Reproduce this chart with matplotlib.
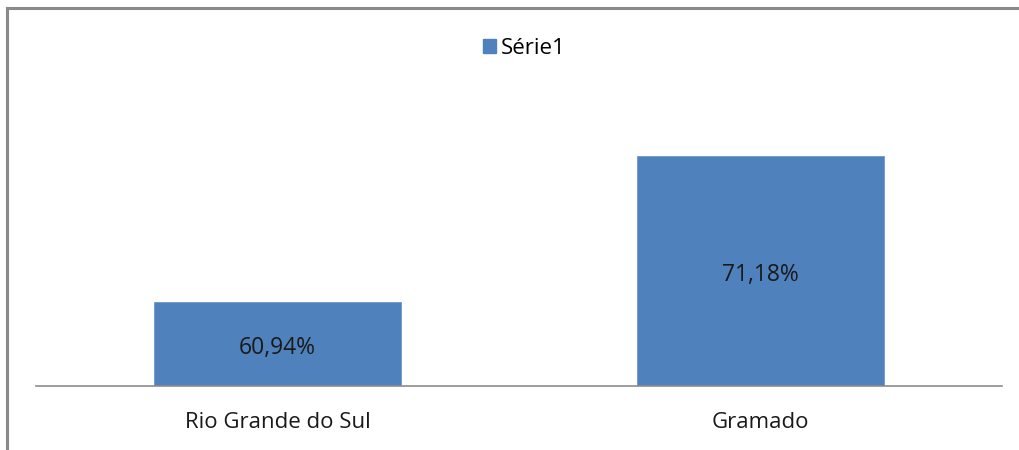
import matplotlib.pyplot as plt
from matplotlib.lines import Line2D
from matplotlib.patches import Patch

categories = ["Rio Grande do Sul", "Gramado"]
values = [60.94, 71.18]
value_labels = ["60,94%", "71,18%"]
series_name = "Série1"

BLUE = "#4F81BD"
W, H = 1020, 450
Y_MIN = 55.1

plt.rcParams["font.family"] = ["Open Sans", "DejaVu Sans"]

fig = plt.figure(figsize=(W / 100, H / 100), dpi=100)
ax = fig.add_axes([36 / W, (H - 385.5) / H, 966 / W, (385.5 - 101.7) / H])

x = range(len(categories))
ax.bar(x, values, width=0.51, color=BLUE, edgecolor="#6f97c8", linewidth=0.6)
for xi, v, lab in zip(x, values, value_labels):
    ax.annotate(lab, (xi, (v + Y_MIN) / 2), xytext=(0, -3),
                textcoords="offset points", ha="center", va="center",
                fontsize=16.5, color="#1a1a1a")

ax.set_xlim(-0.5, 1.5)
ax.set_ylim(Y_MIN, 75)
ax.set_xticks(list(x))
ax.set_xticklabels(categories, fontsize=16, color="#1a1a1a")
ax.tick_params(axis="x", length=0, pad=19)
ax.set_yticks([])
for s in ("top", "right", "left"):
    ax.spines[s].set_visible(False)
ax.spines["bottom"].set_color("#8c8c8c")
ax.spines["bottom"].set_linewidth(1.2)

fig.legend(handles=[Patch(color=BLUE, label=series_name)],
           loc="center", bbox_to_anchor=(524 / W, 1 - 48 / H),
           frameon=False, fontsize=16, handlelength=0.6, handleheight=0.6,
           handletextpad=0.2)

# outer chart frame (only top and left edges visible in the reference)
fig.add_artist(Line2D([7.5 / W, 7.5 / W], [0, 1 - 8 / H],
                      color="#8a8a8a", linewidth=2.2))
fig.add_artist(Line2D([7.5 / W, 1], [1 - 8 / H, 1 - 8 / H],
                      color="#8a8a8a", linewidth=2.2))

fig.savefig("out.png", dpi=100)
